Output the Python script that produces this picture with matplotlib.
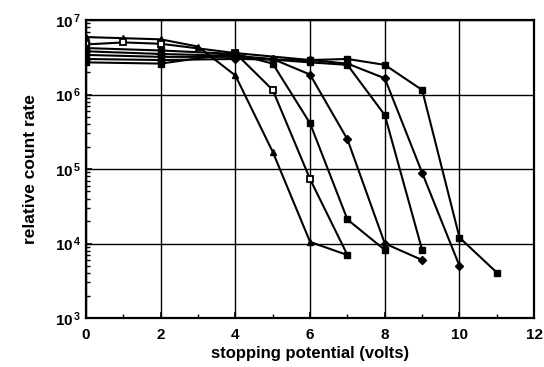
import math
import matplotlib
matplotlib.use('Agg')
import matplotlib.pyplot as plt
from matplotlib.ticker import FixedLocator, LogLocator, FuncFormatter, NullFormatter

plt.rcParams['font.family'] = ['Liberation Sans', 'DejaVu Sans']
plt.rcParams['font.weight'] = 'bold'
plt.rcParams['mathtext.fontset'] = 'custom'
plt.rcParams['mathtext.rm'] = 'Liberation Sans:bold'
plt.rcParams['mathtext.it'] = 'Liberation Sans:bold'
plt.rcParams['mathtext.bf'] = 'Liberation Sans:bold'

# curves: stopping potential (V) vs relative count rate
x_a = [0, 1, 2, 3, 4, 5, 6, 7]
y_a = [5.9e6, 5.7e6, 5.5e6, 4.4e6, 1.8e6, 1.7e5, 1.05e4, 7e3]
x_b = [0, 1, 2, 4, 5, 6, 7]
y_b = [4.7e6, 5.0e6, 4.8e6, 3.6e6, 1.15e6, 7.3e4, 7e3]
x_c = [0, 2, 4, 5, 6, 7, 8]
y_c = [4.2e6, 3.9e6, 3.5e6, 2.6e6, 4.1e5, 2.1e4, 8.2e3]
x_d = [0, 2, 4, 5, 6, 7, 8, 9]
y_d = [3.8e6, 3.5e6, 3.3e6, 3.0e6, 1.85e6, 2.5e5, 1.0e4, 6e3]
x_e = [0, 2, 4, 6, 7, 8, 9]
y_e = [3.4e6, 3.2e6, 3.2e6, 2.7e6, 2.5e6, 5.3e5, 8.2e3]
x_f = [0, 2, 4, 6, 7, 8, 9, 10]
y_f = [3.0e6, 2.9e6, 3.0e6, 2.9e6, 2.6e6, 1.65e6, 8.9e4, 5e3]
x_g = [0, 2, 4, 6, 7, 8, 9, 10, 11]
y_g = [2.7e6, 2.6e6, 3.6e6, 2.9e6, 3.0e6, 2.5e6, 1.15e6, 1.2e4, 4.07e3]

fig = plt.figure(figsize=(5.44, 3.67), dpi=100)
ax = fig.add_axes([0.158, 0.1335, 0.824, 0.812])

lw = 1.5
n = len(x_a) - 1
ax.plot(x_a, y_a, color='black', lw=lw, marker='^', ms=5, markevery=list(range(n)))
ax.plot(x_b, y_b, color='black', lw=lw, marker='s', ms=5, mfc='white', mew=1.3,
        markevery=list(range(len(x_b) - 1)))
# the shared end point of the two curves is drawn as a filled square
ax.plot(x_b[-1:], y_b[-1:], color='black', marker='s', ms=5, ls='none')
ax.plot(x_c, y_c, color='black', lw=lw, marker='s', ms=5)
ax.plot(x_d, y_d, color='black', lw=lw, marker='D', ms=4)
ax.plot(x_e, y_e, color='black', lw=lw, marker='s', ms=5)
ax.plot(x_f, y_f, color='black', lw=lw, marker='D', ms=4)
ax.plot(x_g, y_g, color='black', lw=lw, marker='s', ms=5)

ax.set_yscale('log')
ax.set_xlim(0, 12)
ax.set_ylim(1e3, 1e7)
ax.xaxis.set_major_locator(FixedLocator([0, 2, 4, 6, 8, 10, 12]))
ax.xaxis.set_minor_locator(FixedLocator([1, 3, 5, 7, 9, 11]))
ax.yaxis.set_major_locator(FixedLocator([1e3, 1e4, 1e5, 1e6, 1e7]))
ax.yaxis.set_minor_locator(LogLocator(base=10, subs=range(2, 10)))
ax.yaxis.set_minor_formatter(NullFormatter())


def fmt(v, pos):
    return r'10$^{\,%d}$' % round(math.log10(v))


ax.yaxis.set_major_formatter(FuncFormatter(fmt))
ax.grid(True, which='major', color='black', lw=1.0)
ax.tick_params(which='both', direction='in', colors='black', labelsize=11)
ax.tick_params(axis='x', pad=7)
ax.tick_params(which='major', length=4, width=1.2)
ax.tick_params(which='minor', length=3, width=1.0)
for s in ax.spines.values():
    s.set_linewidth(1.6)

ax.set_xlabel('stopping potential (volts)', fontsize=12, fontweight='bold', labelpad=3)
ax.set_ylabel('relative count rate', fontsize=12.5, fontweight='bold', labelpad=12)

fig.savefig('out.png', dpi=100)
